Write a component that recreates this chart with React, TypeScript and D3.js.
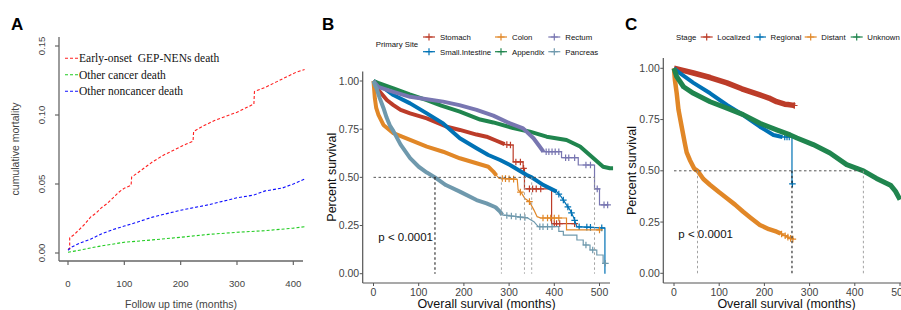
import React from "react";
import * as d3 from "d3";

type P = [number, number];

// ---------------- Panel A data ----------------
const timeTicksA = [0, 100, 200, 300, 400];
const mortTicksA = [0, 0.05, 0.1, 0.15];
const legendA = ["Early-onset  GEP-NENs death", "Other cancer death", "Other noncancer death"];
const gepDeath: P[] = [
  [0, 0.003], [3, 0.003], [3, 0.011], [10, 0.013], [20, 0.017], [30, 0.021], [40, 0.026], [50, 0.029],
  [60, 0.033], [70, 0.036], [80, 0.04], [90, 0.044], [100, 0.047], [112, 0.049], [113, 0.055], [130, 0.06],
  [150, 0.066], [170, 0.071], [190, 0.075], [210, 0.079], [222, 0.081], [223, 0.088], [240, 0.092],
  [260, 0.096], [280, 0.099], [300, 0.102], [320, 0.106], [330, 0.108], [331, 0.117], [350, 0.12],
  [370, 0.124], [390, 0.128], [405, 0.131], [420, 0.133],
];
const otherCancer: P[] = [
  [0, 0.0005], [20, 0.002], [50, 0.0045], [100, 0.0078], [150, 0.0095], [200, 0.0114], [250, 0.0135],
  [300, 0.015], [350, 0.0162], [400, 0.018], [420, 0.019],
];
const otherNoncancer: P[] = [
  [0, 0.002], [5, 0.004], [20, 0.007], [40, 0.01], [60, 0.014], [80, 0.017], [100, 0.0195], [120, 0.022],
  [150, 0.026], [180, 0.029], [200, 0.031], [250, 0.035], [300, 0.04], [330, 0.042], [350, 0.045],
  [380, 0.047], [400, 0.05], [420, 0.0535],
];

// ---------------- Panel B data ----------------
const survTicks = [0, 0.25, 0.5, 0.75, 1];
const monthTicks = [0, 100, 200, 300, 400, 500];
const siteNames = ["Stomach", "Small.Intestine", "Colon", "Appendix", "Rectum", "Pancreas"];
const stomach: P[] = [
  [0, 1], [5, 0.975], [14, 0.944], [30, 0.9], [44, 0.875], [60, 0.85], [81, 0.832], [118, 0.806],
  [162, 0.763], [191, 0.746], [228, 0.722], [250, 0.711], [272, 0.69], [290, 0.672], [300, 0.668],
  [309, 0.668], [309, 0.58], [331, 0.58], [331, 0.547], [334, 0.547], [334, 0.44], [394, 0.44],
  [394, 0.26], [450, 0.26],
];
const smallIntestine: P[] = [
  [0, 1], [14, 0.98], [44, 0.927], [81, 0.884], [118, 0.832], [154, 0.78], [191, 0.703], [228, 0.651],
  [254, 0.616], [280, 0.59], [302, 0.564], [339, 0.512], [350, 0.5], [376, 0.46], [405, 0.426],
  [415, 0.4], [427, 0.357], [435, 0.33], [442, 0.296], [450, 0.244], [512, 0.237], [512, 0.0],
];
const colon: P[] = [
  [0, 1], [3, 0.91], [6, 0.86], [11, 0.824], [22, 0.772], [44, 0.729], [81, 0.694], [118, 0.659],
  [154, 0.633], [191, 0.599], [228, 0.573], [254, 0.555], [265, 0.53], [272, 0.51], [278, 0.495],
  [318, 0.49], [320, 0.434], [328, 0.417], [335, 0.39], [345, 0.374], [355, 0.33], [362, 0.296],
  [370, 0.289], [427, 0.289], [427, 0.227], [502, 0.227],
];
const appendix: P[] = [
  [0, 1], [10, 0.99], [44, 0.962], [80, 0.93], [118, 0.901], [150, 0.872], [191, 0.841], [236, 0.8],
  [265, 0.785], [309, 0.756], [346, 0.737], [383, 0.711], [427, 0.694], [457, 0.66], [486, 0.6],
  [508, 0.555], [523, 0.547],
];
const rectum: P[] = [
  [0, 1], [10, 0.97], [44, 0.944], [81, 0.918], [118, 0.905], [154, 0.893], [190, 0.875], [228, 0.85],
  [265, 0.82], [302, 0.78], [331, 0.754], [354, 0.703], [368, 0.659], [376, 0.633], [416, 0.633],
  [416, 0.602], [453, 0.602], [453, 0.564], [489, 0.564], [489, 0.44], [500, 0.44], [500, 0.357],
  [520, 0.357],
];
const pancreas: P[] = [
  [0, 1], [3, 0.98], [7, 0.96], [14, 0.91], [22, 0.86], [29, 0.81], [36, 0.77], [44, 0.74], [60, 0.67],
  [81, 0.6], [100, 0.555], [118, 0.525], [136, 0.5], [160, 0.46], [191, 0.426], [228, 0.382],
  [250, 0.365], [270, 0.345], [280, 0.322], [285, 0.305], [340, 0.29], [355, 0.27], [361, 0.253],
  [365, 0.244], [410, 0.244], [410, 0.22], [420, 0.22], [420, 0.2], [450, 0.2], [450, 0.175],
  [464, 0.175], [464, 0.149], [479, 0.149], [479, 0.123], [494, 0.123], [494, 0.097], [508, 0.097],
  [508, 0.054], [515, 0.054],
];
const stomachCens = [295, 303, 315, 325, 332, 345, 352, 360, 370, 400, 405, 412, 445];
const smallIntestineCens = [410, 420, 430, 438, 445, 455, 472, 480, 505];
const colonCens = [285, 292, 300, 310, 325, 345, 375, 385, 392, 400, 410, 500];
const appendixCens: number[] = [];
const rectumCens = [382, 388, 395, 402, 410, 425, 432, 445, 470, 480, 495, 510, 518];
const pancreasCens = [295, 305, 315, 325, 335, 368, 375, 385, 395, 470, 485, 513];
const mediansB = [136, 283, 334, 350, 489];

// ---------------- Panel C data ----------------
const stageNames = ["Localized", "Regional", "Distant", "Unknown"];
const localized: P[] = [
  [0, 1], [20, 0.99], [43, 0.977], [80, 0.955], [117, 0.929], [150, 0.9], [190, 0.87], [210, 0.855],
  [227, 0.837], [245, 0.825], [252, 0.823], [268, 0.818],
];
const regional: P[] = [
  [0, 1], [13, 0.976], [43, 0.929], [80, 0.878], [117, 0.821], [153, 0.772], [190, 0.715], [220, 0.675],
  [240, 0.665], [261, 0.665], [261, 0.436], [262, 0.436],
];
const distant: P[] = [
  [0, 1], [2, 0.943], [6, 0.878], [10, 0.797], [17, 0.715], [24, 0.634], [28, 0.59], [35, 0.553],
  [45, 0.51], [52, 0.5], [65, 0.46], [80, 0.431], [100, 0.395], [117, 0.366], [135, 0.335], [153, 0.3],
  [170, 0.27], [190, 0.236], [210, 0.215], [227, 0.203], [240, 0.19], [257, 0.171], [264, 0.166],
];
const unknown: P[] = [
  [0, 1], [6, 0.959], [21, 0.91], [43, 0.878], [80, 0.837], [117, 0.806], [153, 0.774], [190, 0.732],
  [227, 0.7], [257, 0.675], [272, 0.66], [308, 0.628], [345, 0.587], [382, 0.53], [419, 0.5],
  [448, 0.463], [479, 0.43], [490, 0.4], [500, 0.36],
];
const localizedCens = [266];
const regionalCens = [245, 250, 255, 262];
const distantCens = [238, 246, 252, 258, 263];
const unknownCens: number[] = [];
const mediansC = [52, 261, 419];

// ---------------- helpers ----------------
function valueAt(pts: P[], t: number): number {
  for (let i = pts.length - 1; i >= 0; i--) {
    if (pts[i][0] <= t) {
      if (i === pts.length - 1) return pts[i][1];
      const [t0, s0] = pts[i];
      const [t1, s1] = pts[i + 1];
      return t1 === t0 ? s0 : s0 + ((s1 - s0) * (t - t0)) / (t1 - t0);
    }
  }
  return pts[0][1];
}

const SANS = "Liberation Sans, Arial, sans-serif";

type Series = { pts: P[]; cens: number[]; color: string; dense: number; w: number };

function KMPanel(props: {
  x: d3.ScaleLinear<number, number>;
  y: d3.ScaleLinear<number, number>;
  axisLeft: number;
  axisBottom: number;
  axisTop: number;
  axisRight: number;
  titleX: number;
  series: Series[];
  medians: number[];
  darkMedian: number;
  pText: [number, number];
}) {
  const { x, y, axisLeft, axisBottom, axisTop, axisRight, titleX, series, medians, darkMedian, pText } = props;
  const line = d3.line<P>().x((d) => x(d[0])).y((d) => y(d[1]));
  const maxMed = Math.max(...medians);
  return (
    <g>
      {series.map((s, i) => {
        const densePts: P[] = s.pts.filter((p) => p[0] <= s.dense);
        densePts.push([s.dense, valueAt(s.pts, s.dense)]);
        return (
          <g key={i}>
            <path d={line(s.pts) || ""} fill="none" stroke={s.color} strokeWidth={1.2} />
            <path d={line(densePts) || ""} fill="none" stroke={s.color} strokeWidth={s.w} strokeLinejoin="round" />
            {s.cens.map((t, j) => {
              const cx = x(t);
              const cy = y(valueAt(s.pts, t));
              return (
                <path key={j} d={`M${cx - 3.3},${cy}h6.6M${cx},${cy - 3.3}v6.6`} stroke={s.color} strokeWidth={1.2} />
              );
            })}
          </g>
        );
      })}
      <line x1={x(0)} x2={x(maxMed)} y1={y(0.5)} y2={y(0.5)} stroke="#444" strokeWidth={0.9} strokeDasharray="2.5,2.5" />
      {medians.map((m, i) => (
        <line key={i} x1={x(m)} x2={x(m)} y1={y(0.5)} y2={y(0)}
          stroke={m === darkMedian ? "#222" : "#999"} strokeWidth={m === darkMedian ? 1.1 : 0.9} strokeDasharray="2.5,2.5" />
      ))}
      <line x1={axisLeft} x2={axisLeft} y1={axisTop} y2={axisBottom} stroke="#555" strokeWidth={1.2} />
      <line x1={axisLeft} x2={axisRight} y1={axisBottom} y2={axisBottom} stroke="#555" strokeWidth={1.2} />
      {survTicks.map((v) => (
        <g key={v}>
          <line x1={axisLeft - 3} x2={axisLeft} y1={y(v)} y2={y(v)} stroke="#555" strokeWidth={1} />
          <text x={axisLeft - 3.5} y={y(v)} dy="0.35em" textAnchor="end" fontSize={10.5} fill="#444" fontFamily={SANS}>
            {d3.format(".2f")(v)}
          </text>
        </g>
      ))}
      {monthTicks.map((v) => (
        <g key={v}>
          <line x1={x(v)} x2={x(v)} y1={axisBottom} y2={axisBottom + 3} stroke="#555" strokeWidth={1} />
          <text x={x(v)} y={axisBottom + 13} textAnchor="middle" fontSize={10.5} fill="#444" fontFamily={SANS}>
            {v}
          </text>
        </g>
      ))}
      <text x={pText[0]} y={pText[1]} fontSize={11.5} fill="#111" fontFamily={SANS}>p &lt; 0.0001</text>
      <text x={titleX} y={307.5} textAnchor="middle" fontSize={12.5} fill="#111" fontFamily={SANS}>
        Overall survival (months)
      </text>
      <text transform={`translate(${axisLeft - 27},${(axisTop + axisBottom) / 2}) rotate(-90)`} textAnchor="middle"
        fontSize={12.5} fill="#111" fontFamily={SANS}>
        Percent survival
      </text>
    </g>
  );
}

function LegendKey({ cx, cy, color }: { cx: number; cy: number; color: string }) {
  return (
    <g>
      <line x1={cx - 6} x2={cx + 6} y1={cy} y2={cy} stroke={color} strokeWidth={1.2} />
      <path d={`M${cx - 3.5},${cy}h7M${cx},${cy - 3.5}v7`} stroke={color} strokeWidth={1.2} />
    </g>
  );
}

export default function App() {
  const xA = d3.scaleLinear().domain([0, 420]).range([68, 68 + 420 * 0.5633]);
  const yA = d3.scaleLinear().domain([0, 0.15]).range([253, 46]);
  const lineA = d3.line<P>().x((d) => xA(d[0])).y((d) => yA(d[1]));
  const colA = ["#ff2020", "#22cc22", "#1010ff"];
  const seriesA = [gepDeath, otherCancer, otherNoncancer];

  const xB = d3.scaleLinear().domain([0, 500]).range([373.5, 373.5 + 500 * 0.452]);
  const yB = d3.scaleLinear().domain([0, 1]).range([273.7, 81]);
  const colB = ["#BC3C29", "#0072B5", "#E18727", "#20854E", "#7876B1", "#6F99AD"];
  const ptsB = [stomach, smallIntestine, colon, appendix, rectum, pancreas];
  const censB = [stomachCens, smallIntestineCens, colonCens, appendixCens, rectumCens, pancreasCens];
  const denseB = [290, 405, 272, 530, 376, 285];
  const seriesB: Series[] = ptsB.map((pts, i) => ({ pts, cens: censB[i], color: colB[i], dense: denseB[i], w: 4 }));

  const xC = d3.scaleLinear().domain([0, 500]).range([674, 674 + 500 * 0.452]);
  const yC = d3.scaleLinear().domain([0, 1]).range([273.3, 68.3]);
  const colC = ["#BC3C29", "#0072B5", "#E18727", "#20854E"];
  const ptsC = [localized, regional, distant, unknown];
  const censC = [localizedCens, regionalCens, distantCens, unknownCens];
  const denseC = [268, 240, 236, 500];
  const widthC = [5.5, 4, 4.5, 5];
  const seriesC: Series[] = ptsC.map((pts, i) => ({ pts, cens: censC[i], color: colC[i], dense: denseC[i], w: widthC[i] }));

  const legBx = [429, 501, 554.3];
  const legBy = [37, 51.7];
  const legCx = [706.7, 760, 810.7, 856.7];

  return (
    <div>
      <style>{`body{margin:0;background:#fff}`}</style>
      <svg width={901} height={310} style={{ display: "block" }} xmlns="http://www.w3.org/2000/svg">
        <rect width={901} height={310} fill="#fff" />
        <text x={11} y={30} fontSize={17} fontWeight="bold" fontFamily={SANS}>A</text>
        <text x={322} y={30} fontSize={17} fontWeight="bold" fontFamily={SANS}>B</text>
        <text x={625} y={30} fontSize={17} fontWeight="bold" fontFamily={SANS}>C</text>

        {/* Panel A */}
        <g>
          {seriesA.map((s, i) => (
            <path key={i} d={lineA(s) || ""} fill="none" stroke={colA[i]} strokeWidth={1.1} strokeDasharray="3,2" />
          ))}
          <line x1={59} x2={59} y1={37} y2={261} stroke="#666" strokeWidth={1.3} />
          <line x1={59} x2={303} y1={261} y2={261} stroke="#666" strokeWidth={1.3} />
          {mortTicksA.map((v) => (
            <g key={v}>
              <line x1={55} x2={59} y1={yA(v)} y2={yA(v)} stroke="#666" strokeWidth={1.2} />
              <text transform={`translate(45,${yA(v)}) rotate(-90)`} textAnchor="middle" fontSize={9.6} fill="#444" fontFamily={SANS}>
                {d3.format(".2f")(v)}
              </text>
            </g>
          ))}
          {timeTicksA.map((v) => (
            <g key={v}>
              <line x1={xA(v)} x2={xA(v)} y1={261} y2={265} stroke="#666" strokeWidth={1.2} />
              <text x={xA(v)} y={286.5} textAnchor="middle" fontSize={9.6} fill="#444" fontFamily={SANS}>{v}</text>
            </g>
          ))}
          <text transform="translate(19,149) rotate(-90)" textAnchor="middle" fontSize={10.5} fill="#444" fontFamily={SANS}>
            cumulative mortality
          </text>
          <text x={181} y={308} textAnchor="middle" fontSize={10.5} fill="#444" fontFamily={SANS}>Follow up time (months)</text>
          {legendA.map((t, i) => (
            <g key={i}>
              <line x1={65} x2={78} y1={58.3 + i * 16.5} y2={58.3 + i * 16.5} stroke={colA[i]} strokeWidth={1.1} strokeDasharray="3,2" />
              <text x={79} y={62.2 + i * 16.5} fontSize={11.5} fill="#111" fontFamily="Liberation Serif, Times New Roman, serif" style={{ whiteSpace: "pre" }}>
                {t}
              </text>
            </g>
          ))}
        </g>

        {/* Panel B */}
        <g>
          <text x={375.7} y={46.8} fontSize={7.8} fill="#111" fontFamily={SANS}>Primary Site</text>
          {siteNames.map((n, i) => {
            const col = Math.floor(i / 2);
            const row = i % 2;
            return (
              <g key={n}>
                <LegendKey cx={legBx[col]} cy={legBy[row]} color={colB[i]} />
                <text x={legBx[col] + 11} y={legBy[row] + 2.8} fontSize={7.8} fill="#111" fontFamily={SANS}>{n}</text>
              </g>
            );
          })}
          <KMPanel x={xB} y={yB} axisLeft={362.7} axisBottom={283} axisTop={71.4} axisRight={610} titleX={486.5}
            series={seriesB} medians={mediansB} darkMedian={136} pText={[378.3, 240.5]} />
        </g>

        {/* Panel C */}
        <g>
          <text x={676} y={39.8} fontSize={7.8} fill="#111" fontFamily={SANS}>Stage</text>
          {stageNames.map((n, i) => (
            <g key={n}>
              <LegendKey cx={legCx[i]} cy={37} color={colC[i]} />
              <text x={legCx[i] + 10.6} y={39.8} fontSize={7.8} fill="#111" fontFamily={SANS}>{n}</text>
            </g>
          ))}
          <KMPanel x={xC} y={yC} axisLeft={663.3} axisBottom={283} axisTop={58} axisRight={901} titleX={786.5}
            series={seriesC} medians={mediansC} darkMedian={261} pText={[678.3, 238]} />
        </g>
      </svg>
    </div>
  );
}
